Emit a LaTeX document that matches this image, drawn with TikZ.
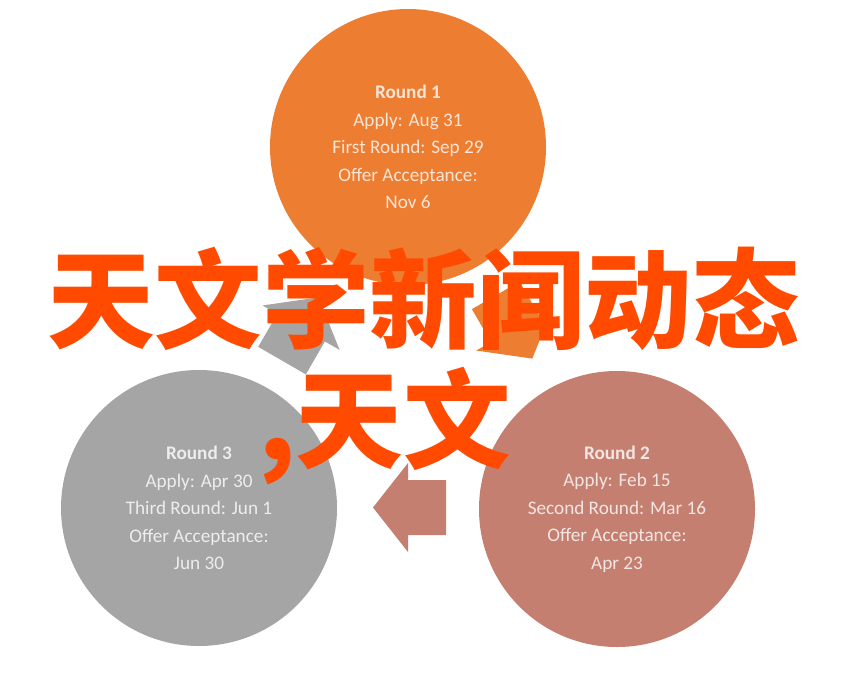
\documentclass[tikz,border=0pt]{standalone}
\usepackage{fontspec}
\setmainfont{Carlito}
\newfontfamily\cjk{Noto Sans CJK SC}
\definecolor{cA}{HTML}{ED7D31}
\definecolor{cB}{HTML}{C47F70}
\definecolor{cC}{HTML}{A5A5A5}
\definecolor{bigred}{HTML}{FF4A00}
\tikzset{
  round/.style={circle, minimum size=276pt, inner sep=0pt, align=center,
    font=\fontsize{19.2}{27.5}\selectfont},
  blockarrow/.pic={\fill[pic actions] (-36.5,-27.5) -- (1.5,-27.5) -- (1.5,-44.5) -- (36.5,0) -- (1.5,44.5) -- (1.5,27.5) -- (-36.5,27.5) -- cycle;},
  bigtext/.style={inner sep=0pt, text=bigred, font=\cjk\bfseries\fontsize{107.5}{120}\selectfont}
}
\begin{document}
\begin{tikzpicture}[x=1pt,y=-1pt]
\useasboundingbox[fill=white] (0,0) rectangle (845,682);
% circles
\node[round, fill=cA, text=white!80!cA] (r1) at (408,147)
  {\textbf{Round 1}\\Apply: Aug 31\\First Round: Sep 29\\Offer Acceptance:\\Nov 6};
\node[round, fill=cB, text=white!80!cB] (r2) at (617,509)
  {\textbf{Round 2}\\Apply: Feb 15\\Second Round: Mar 16\\Offer Acceptance:\\Apr 23};
\node[round, fill=cC, text=white!80!cC] (r3) at (199,508)
  {\textbf{Round 3}\\Apply: Apr 30\\Third Round: Jun 1\\Offer Acceptance:\\Jun 30};
% block arrows
\pic[fill=cA, rotate=-60] at (514,327) {blockarrow};
\pic[fill=cB, rotate=180] at (409.5,507.5) {blockarrow};
\pic[fill=cC, rotate=60] at (300.3,329) {blockarrow};
% big overlay text
\node[bigtext, anchor=base west] (t1) at (47,340) {天文学新闻动态};
\node[bigtext, anchor=base west] (t2) at (258,460) {,天文};
\end{tikzpicture}
\end{document}
